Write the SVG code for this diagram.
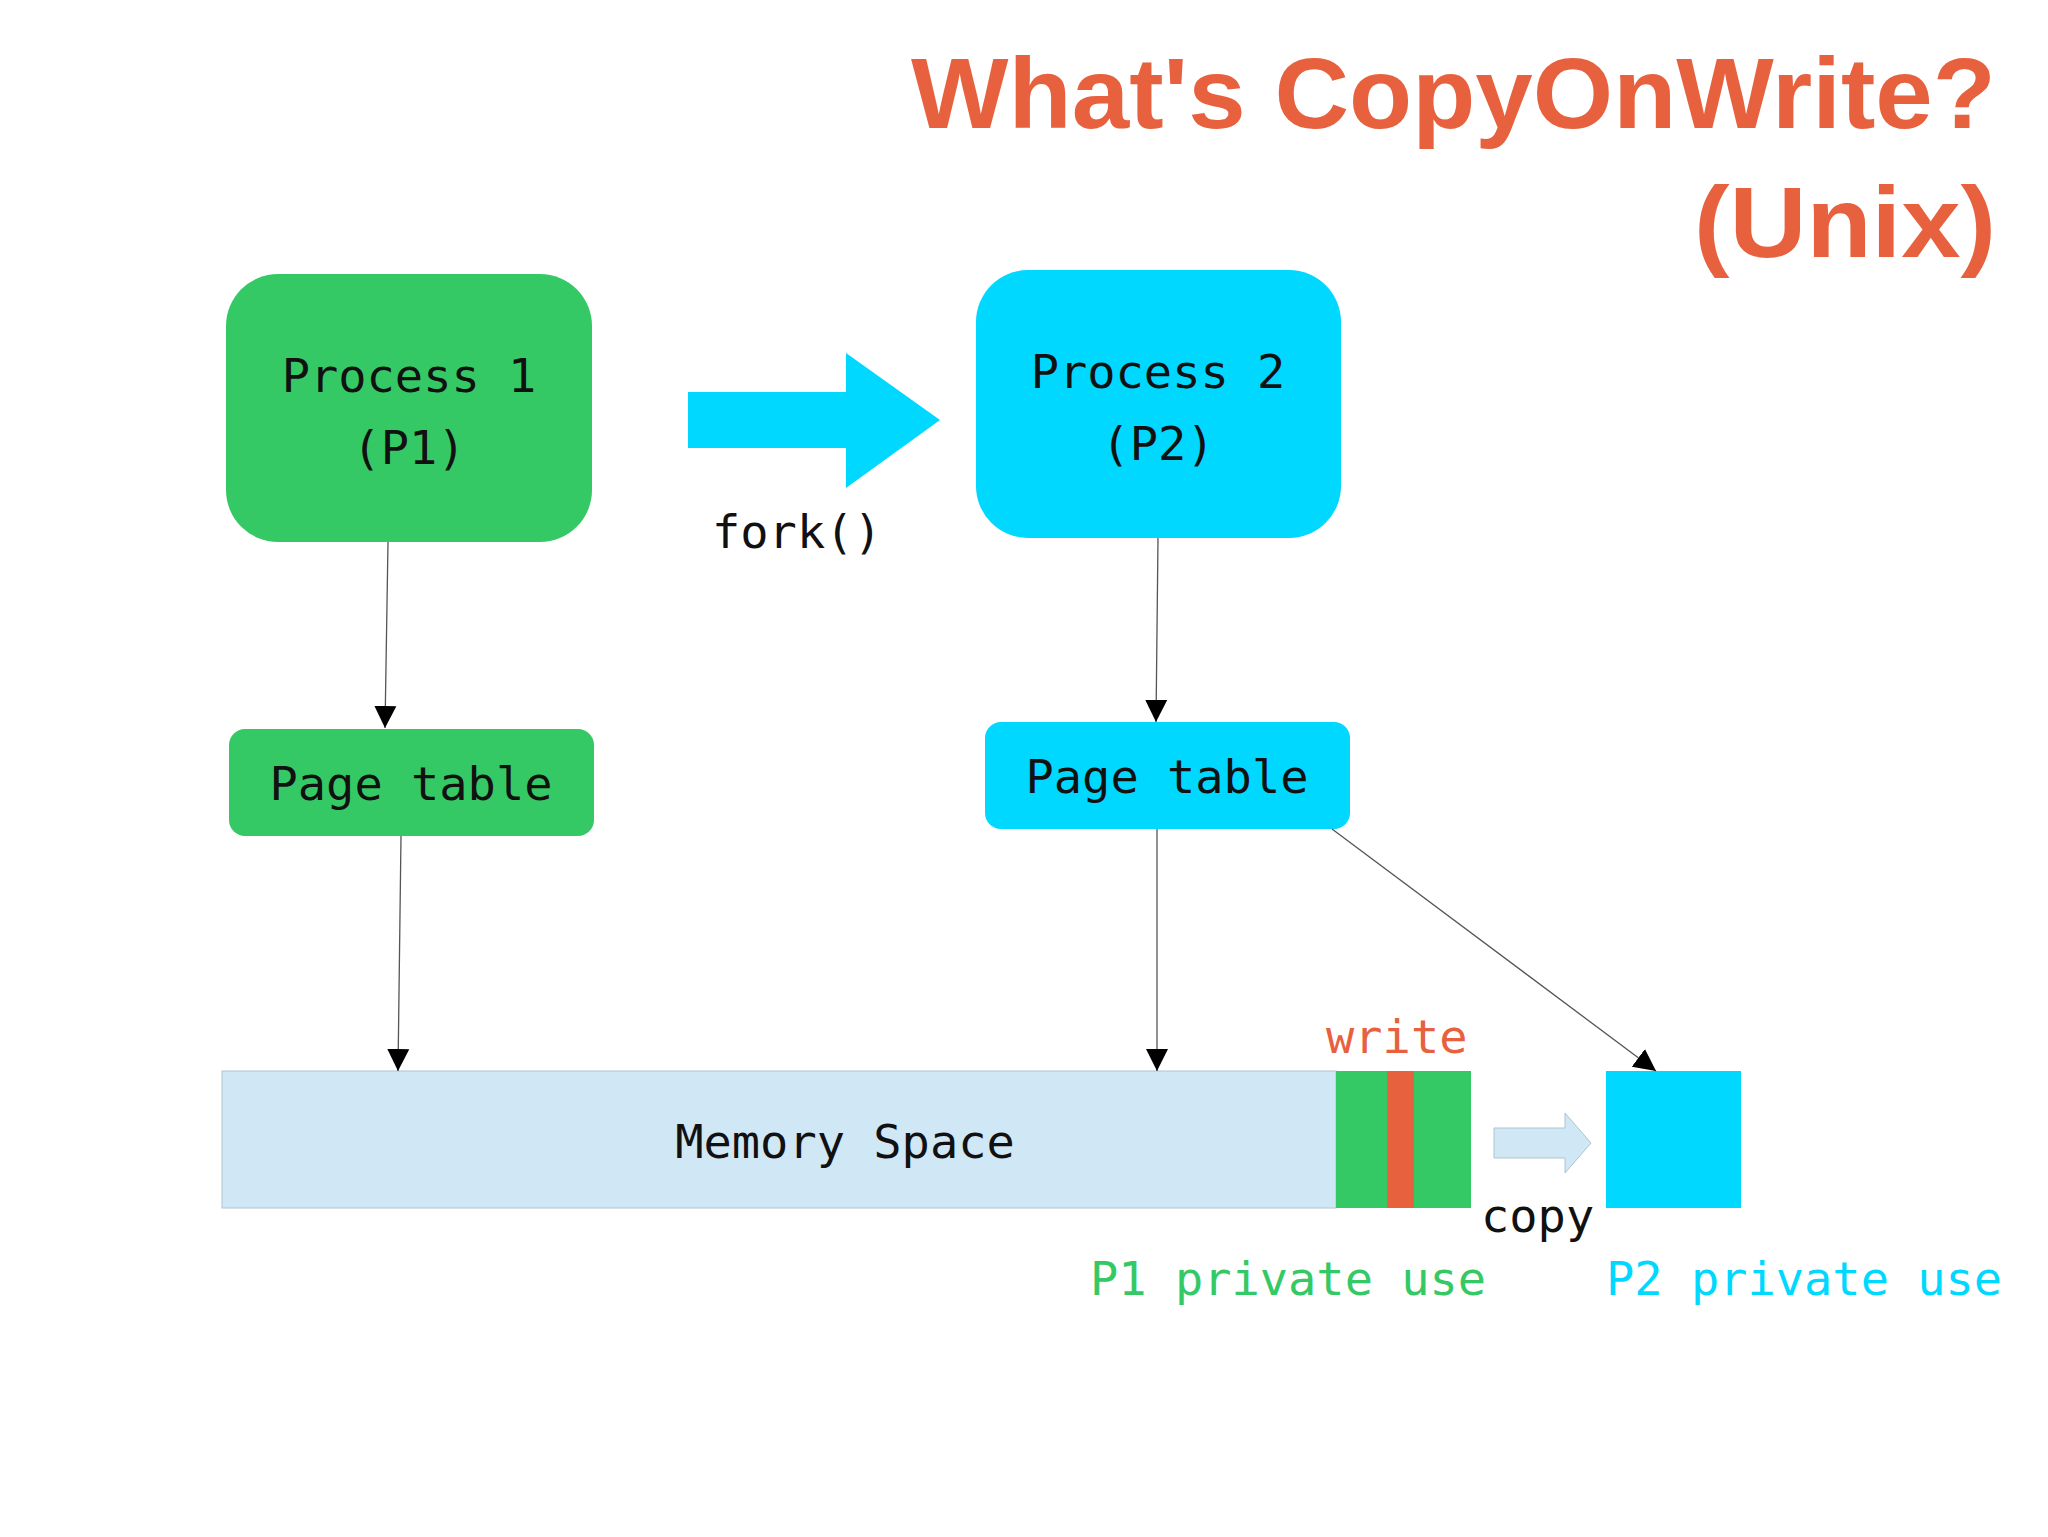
<svg xmlns="http://www.w3.org/2000/svg" width="2048" height="1537" viewBox="0 0 2048 1537">
<style>
.t{font-family:"DejaVu Sans Mono","Liberation Mono",monospace;font-size:47px;fill:#111}
.c{text-anchor:middle}
.title{font-family:"Liberation Sans",Arial,sans-serif;font-weight:bold;font-size:100px;fill:#e8613f;text-anchor:end}
.ln{stroke:#555;stroke-width:1.3;fill:none;marker-end:url(#ah)}
</style>
<defs><marker id="ah" viewBox="0 0 10 10" refX="10" refY="5" markerWidth="22" markerHeight="30" markerUnits="userSpaceOnUse" orient="auto"><path d="M0,0 L10,5 L0,10 z" fill="#000"/></marker></defs>
<rect width="2048" height="1537" fill="#fff"/>
<g id="title">
<text class="title" x="1996" y="128" textLength="1085" lengthAdjust="spacingAndGlyphs">What's CopyOnWrite?</text>
<text class="title" x="1996" y="257" textLength="302" lengthAdjust="spacingAndGlyphs">(Unix)</text>
</g>
<g id="p1"><rect x="226" y="274" width="366" height="268" rx="52" fill="#35c966"/>
<text class="t c" x="409" y="392">Process 1</text><text class="t c" x="409" y="464">(P1)</text></g>
<g id="p2"><rect x="976" y="270" width="365" height="268" rx="52" fill="#00d8ff"/>
<text class="t c" x="1158" y="388">Process 2</text><text class="t c" x="1158" y="460">(P2)</text></g>
<g id="fork"><path d="M688,392 H846 V353 L940,420 L846,488 V448 H688 z" fill="#00d8ff"/>
<text class="t" x="712" y="548">fork()</text></g>
<g id="pt1"><rect x="229" y="729" width="365" height="107" rx="16" fill="#35c966"/><text class="t c" x="411" y="800">Page table</text></g>
<g id="pt2"><rect x="985" y="722" width="365" height="107" rx="16" fill="#00d8ff"/><text class="t c" x="1167" y="793">Page table</text></g>
<g id="mem"><rect x="222" y="1071" width="1114" height="137" fill="#d0e7f5" stroke="#b0c4d0"/>
<text class="t c" x="845" y="1158">Memory Space</text>
<rect x="1336" y="1071" width="135" height="137" fill="#35c966"/>
<rect x="1387" y="1071" width="27" height="137" fill="#e8613f"/>
<text class="t" x="1326" y="1053" fill="#e8613f" style="fill:#e8613f">write</text>
<text class="t" x="1090" y="1295" style="fill:#35c966">P1 private use</text></g>
<g id="copy"><path d="M1494,1128 H1565 V1113 L1591,1143 L1565,1173 V1158 H1494 z" fill="#d0e7f5" stroke="#b0c4d0"/>
<text class="t" x="1481" y="1232">copy</text></g>
<g id="p2mem"><rect x="1606" y="1071" width="135" height="137" fill="#00d8ff"/>
<text class="t" x="1606" y="1295" style="fill:#00d8ff">P2 private use</text></g>
<g id="connectors">
<path class="ln" d="M388,542 L385,728"/>
<path class="ln" d="M1158,538 L1156,722"/>
<path class="ln" d="M401,836 L398,1071"/>
<path class="ln" d="M1157,829 L1157,1071"/>
<path class="ln" d="M1332,829 L1656,1071"/>
</g>
</svg>
